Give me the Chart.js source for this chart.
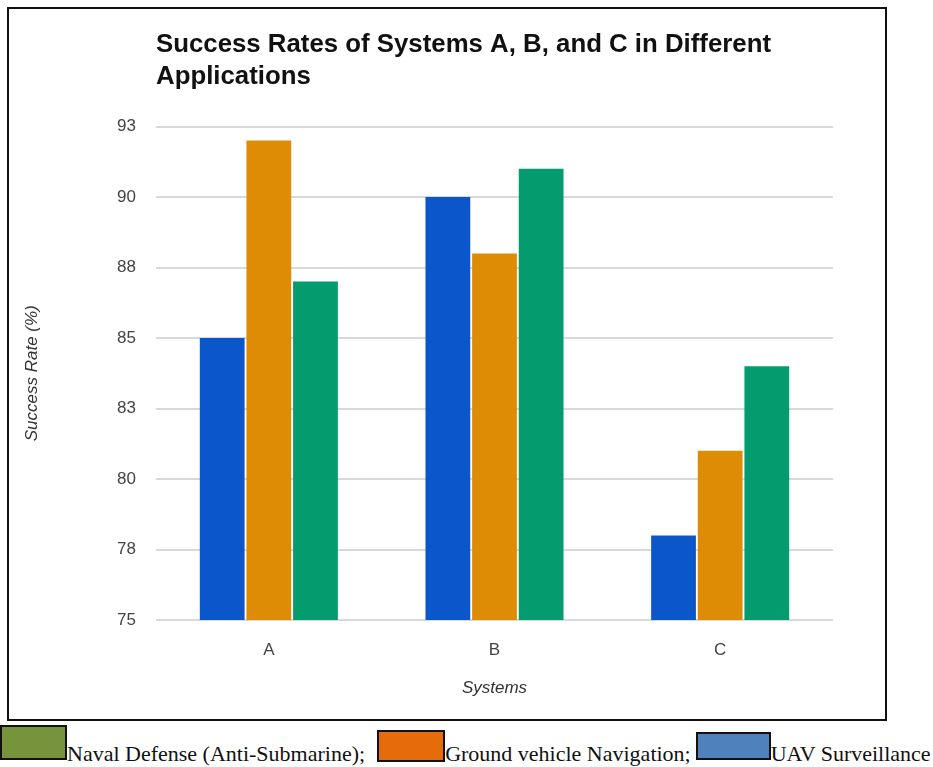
<!DOCTYPE html>
<html>
<head>
<meta charset="utf-8">
<script src="https://cdn.jsdelivr.net/npm/chart.js@4.4.1/dist/chart.umd.min.js"></script>
<style>
    body { margin: 0; background: #fff; width: 933px; height: 767px; overflow: hidden; position: relative; }
    #frame { position: absolute; left: 7px; top: 7px; width: 876px; height: 710px; border: 2px solid #111; }
    #legend { position: absolute; left: 0; top: 725px; white-space: nowrap; font-family: "Liberation Serif", serif; font-size: 22px; color: #111; }
    .swatch { display: inline-block; border: 2px solid #111; box-sizing: border-box; }
</style>
</head>
<body>
<div id="frame"><canvas id="chart" width="876" height="710"></canvas></div>
<div id="legend"></div>
<script>
    // Werte
    let systems = ['A', 'B', 'C'];
    let uavValues = [85, 90, 78];
    let groundValues = [92, 88, 81];
    let navalValues = [87, 91, 84];

    let yMin = 75;
    let yMax = 92.5;
    let yStep = 2.5;

    let titleLines = ['Success Rates of Systems A, B, and C in Different', 'Applications'];

    // Legende unter dem Rahmen (eigene Farben wie im Original)
    let legendLabels = ['Naval Defense (Anti-Submarine);', 'Ground vehicle Navigation;', 'UAV Surveillance'];
    let legendColors = ['#77933c', '#e46c0a', '#4f81bd'];

    function buildLegend() {
        /*
            Baut die Legende als HTML unterhalb des Diagramms.
         */
        let sizes = [[67, 35], [68, 32], [75, 28]];
        let margins = [0, 12, 5];
        let shifts = [1, -1, 1];
        let html = '';
        for (let i = 0; i < legendLabels.length; i++) {
            html += '<span class="swatch" style="margin-left:' + margins[i] + 'px;width:' + sizes[i][0] + 'px;height:' + sizes[i][1] + 'px;vertical-align:' + shifts[i] + 'px;background:' + legendColors[i] + '"></span>';
            html += '<span>' + legendLabels[i] + '</span>';
        }
        document.getElementById('legend').innerHTML = html;
    }

    function createDataset(label, data, color) {
        return {
            label: label,
            data: data,
            backgroundColor: color,
            borderWidth: 0,
            categoryPercentage: 0.62,
            barPercentage: 0.96
        };
    }

    buildLegend();

    let ctx = document.getElementById('chart').getContext('2d');
    let chart = new Chart(ctx, {
        type: 'bar',
        data: {
            labels: systems,
            datasets: [
                createDataset('UAV Surveillance', uavValues, '#0c56cc'),
                createDataset('Ground vehicle Navigation', groundValues, '#de8b05'),
                createDataset('Naval Defense (Anti-Submarine)', navalValues, '#049b6f')
            ]
        },
        options: {
            responsive: false,
            animation: false,
            layout: { padding: { left: 0, right: 52, top: 0, bottom: 0 } },
            plugins: {
                legend: { display: false },
                tooltip: { enabled: false },
                title: {
                    display: true,
                    text: titleLines,
                    align: 'start',
                    fullSize: false,
                    color: '#111',
                    font: { family: 'Liberation Sans, Arial', size: 25.8, weight: 'bold', lineHeight: 1.25 },
                    padding: { top: 20, bottom: 33 }
                }
            },
            scales: {
                x: {
                    grid: { display: false },
                    border: { display: false },
                    ticks: { color: '#444', padding: 12, font: { family: 'Liberation Sans, Arial', size: 17 } },
                    title: {
                        display: true,
                        text: 'Systems',
                        color: '#333',
                        font: { family: 'Liberation Sans, Arial', size: 17, style: 'italic' },
                        padding: { top: 0, bottom: 21 }
                    },
                    afterFit: function (scale) { scale.height = 99; }
                },
                y: {
                    min: yMin,
                    max: yMax,
                    grid: { color: '#d9d9d9', lineWidth: 2, drawTicks: false },
                    border: { display: false },
                    ticks: {
                        stepSize: yStep,
                        color: '#444',
                        padding: 20,
                        font: { family: 'Liberation Sans, Arial', size: 17 },
                        callback: function (value) { return Math.round(value); }
                    },
                    title: {
                        display: true,
                        text: 'Success Rate (%)',
                        color: '#333',
                        font: { family: 'Liberation Sans, Arial', size: 17, style: 'italic' },
                        padding: { top: 13, bottom: 0 }
                    },
                    afterFit: function (scale) { scale.width = 147; }
                }
            }
        }
    });
</script>
</body>
</html>
